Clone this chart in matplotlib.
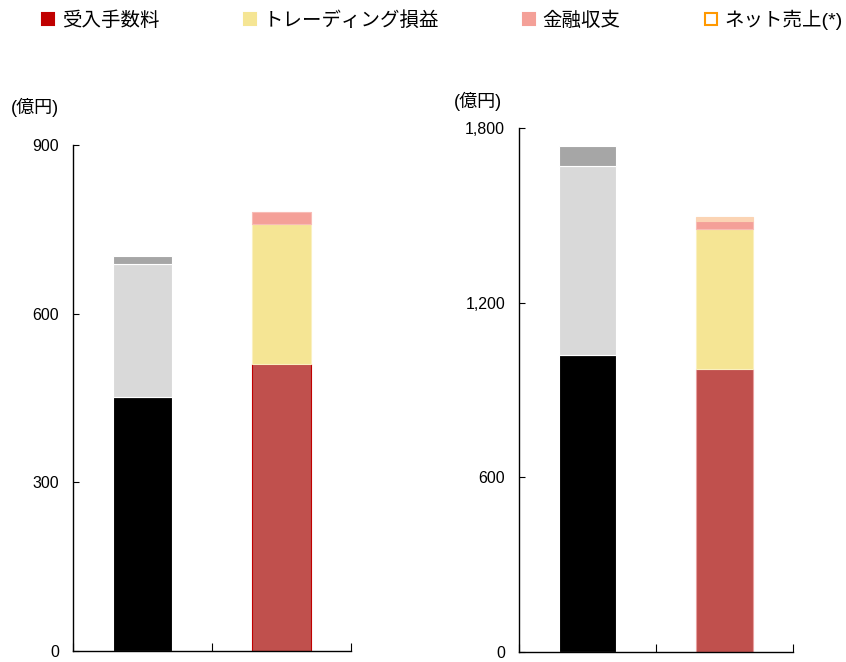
import matplotlib
matplotlib.use("Agg")
import matplotlib.pyplot as plt
from matplotlib.lines import Line2D
from matplotlib.ticker import FuncFormatter

plt.rcParams["font.family"] = ["Liberation Sans", "Noto Sans CJK JP", "DejaVu Sans"]

# left panel: two stacked bars (gray group / colored group)
left_gray = [452, 237, 14]
left_color = [511, 249, 21]
# right panel
right_gray = [1020, 650, 68]
right_color = [972, 481, 28, 13]

gray_colors = ["#000000", "#D9D9D9", "#A6A6A6"]
color_colors = ["#C0504D", "#F5E594", "#F4A098", "#FBD4B4"]

legend_labels = ["受入手数料", "トレーディング損益", "金融収支", "ネット売上(*)"]
legend_faces = ["#C00000", "#F5E594", "#F4A098", "white"]
legend_edges = ["#C00000", "#F5E594", "#F4A098", "#FF9900"]

y_max = [900, 1800]
y_ticks = [[0, 300, 600, 900], [0, 600, 1200, 1800]]

fig = plt.figure(figsize=(8.46, 6.62), dpi=100)
ax1 = fig.add_axes([0.0863, 0.0166, 0.3286, 0.7643])
ax2 = fig.add_axes([0.6135, 0.0151, 0.3239, 0.7915])

width = 0.42


def stack(ax, x, values, colors, edges):
    bottom = 0
    for v, c, e in zip(values, colors, edges):
        ax.bar(x, v, width, bottom=bottom, color=c, edgecolor=e, linewidth=0.8)
        bottom += v


stack(ax1, 0.5, left_gray, gray_colors, ["white"] * 3)
stack(ax1, 1.5, left_color, color_colors, ["#C00000", "#FAF0C0", "#F8BCB6"])
stack(ax2, 0.5, right_gray, gray_colors, ["white"] * 3)
stack(ax2, 1.5, right_color, color_colors, ["#E8A0A0", "#FAF0C0", "#F8BCB6", "#FBD4B4"])

for ax, ym, yt in zip([ax1, ax2], y_max, y_ticks):
    ax.set_xlim(0, 2)
    ax.set_ylim(0, ym)
    ax.set_yticks(yt)
    ax.yaxis.set_major_formatter(FuncFormatter(lambda v, p: f"{int(v):,}"))
    ax.set_xticks([0, 1, 2])
    ax.set_xticklabels([])
    ax.spines["top"].set_visible(False)
    ax.spines["right"].set_visible(False)
    ax.tick_params(axis="y", direction="in", length=4, labelsize=11.5, pad=10)
    ax.tick_params(axis="x", direction="in", length=6)
    for s in ["left", "bottom"]:
        ax.spines[s].set_linewidth(1.0)

fig.text(0.013, 0.83, "(億円)", fontsize=13, family=["Liberation Sans", "Noto Sans CJK JP"])
fig.text(0.536, 0.838, "(億円)", fontsize=13, family=["Liberation Sans", "Noto Sans CJK JP"])

handles = [Line2D([], [], ls="", marker="s", markersize=8, markerfacecolor=f,
                  markeredgecolor=e, markeredgewidth=1.5)
           for f, e in zip(legend_faces, legend_edges)]
fig.legend(handles, legend_labels, loc="upper left", bbox_to_anchor=(0.027, 1.012),
           ncol=4, frameon=False, handlelength=0.8, handletextpad=0.3,
           columnspacing=4.25, prop={"family": ["Liberation Sans", "Noto Sans CJK JP"], "size": 14})

fig.savefig("out.png", dpi=100)
